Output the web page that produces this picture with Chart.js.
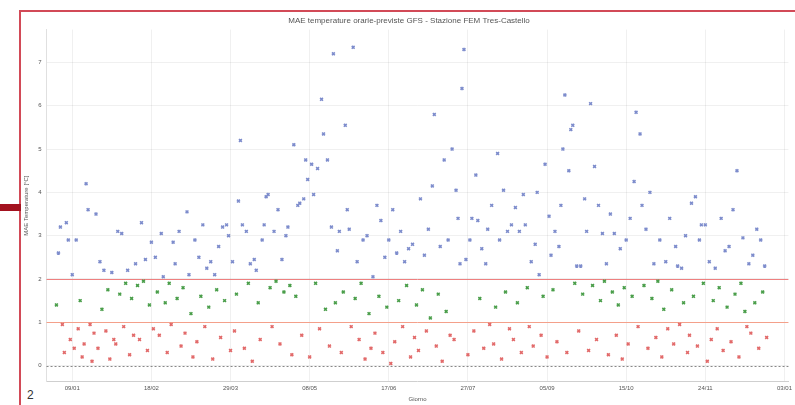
<!DOCTYPE html>
<html>
<head>
<meta charset="utf-8">
<script src="https://cdn.jsdelivr.net/npm/chart.js"></script>
<style>
  html, body { margin: 0; padding: 0; background: #fff; }
  body { width: 795px; height: 405px; position: relative; overflow: hidden; font-family: "Liberation Sans", Arial, sans-serif; }
  #frame { position: absolute; left: 19px; top: 10px; width: 800px; height: 420px; border-left: 2px solid #d24a57; border-top: 2px solid #d24a57; }
  #bar { position: absolute; left: 0; top: 204px; width: 21px; height: 7px; background: #a3121f; }
  #page { position: absolute; left: 27px; top: 388px; font-size: 12px; color: #333; }
  #box { position: absolute; left: 21px; top: 12px; width: 774px; height: 393px; }
</style>
</head>
<body>
<div id="frame"></div>
<div id="bar"></div>
<div id="page">2</div>
<div id="box"><canvas id="chart"></canvas></div>
<script>
// Chart data

const titolo = "MAE temperature orarie-previste GFS - Stazione FEM Tres-Castello";

// MAE giornaliero [°C], un valore per giorno
const mae = [
  1.4, 2.6, 3.2, 0.95, 0.3, 3.3, 2.9, 0.6, 2.1, 0.4,
  2.9, 0.85, 1.5, 0.2, 0.5, 4.2, 3.6, 0.95, 0.1, 0.75,
  3.5, 0.4, 2.4, 1.3, 2.2, 0.8, 1.75, 0.15, 2.15, 0.6,
  0.5, 3.1, 1.65, 3.05, 0.9, 1.9, 2.2, 0.25, 1.55, 0.7,
  2.35, 1.85, 0.6, 3.3, 1.95, 2.45, 0.35, 1.4, 2.85, 0.85,
  2.5, 1.7, 0.7, 3.05, 2.05, 1.45, 0.3, 1.9, 0.95, 2.85,
  2.35, 1.55, 3.1, 0.45, 1.8, 0.75, 3.55, 2.1, 1.2, 0.2,
  2.9, 0.55, 2.5, 1.6, 3.25, 0.9, 2.25, 1.35, 2.4, 0.15,
  2.1, 1.75, 2.75, 0.65, 3.2, 1.5, 3.25, 3.0, 0.35, 2.4,
  0.8, 1.65, 3.8, 5.2, 3.25, 0.4, 3.1, 1.9, 2.35, 0.1,
  2.45, 2.2, 1.45, 0.6, 2.9, 3.25, 3.9, 3.95, 1.8, 0.9,
  3.1, 1.95, 3.6, 0.5, 2.45, 1.7, 3.0, 3.2, 1.85, 0.25,
  5.1, 1.6, 3.7, 3.75, 0.7, 3.85, 4.75, 4.3, 0.2, 4.65,
  3.95, 1.9, 4.55, 0.85, 6.15, 5.35, 1.3, 4.75, 0.45, 3.2,
  7.2, 1.45, 2.65, 3.1, 0.3, 1.7, 5.55, 3.6, 3.15, 0.9,
  7.35, 1.55, 2.4, 0.6, 1.9, 2.9, 0.15, 3.0, 1.2, 0.4,
  2.05, 0.75, 3.7, 1.6, 3.35, 0.3, 2.5, 1.35, 2.9, 0.05,
  3.6, 0.55, 2.6, 1.5, 3.1, 0.9, 2.4, 1.85, 2.7, 0.2,
  2.8, 0.65, 1.4, 0.35, 3.85, 1.75, 2.55, 0.8, 3.15, 1.1,
  4.15, 5.8, 0.45, 1.65, 2.75, 0.1, 4.75, 1.25, 2.9, 0.7,
  5.0, 0.6, 4.05, 3.4, 2.35, 6.4, 7.3, 2.45, 0.25, 2.9,
  3.4, 0.8, 4.4, 3.35, 1.55, 2.7, 0.4, 2.35, 3.15, 0.95,
  3.7, 0.5, 1.35, 4.9, 2.9, 0.15, 4.05, 1.7, 3.1, 0.85,
  3.25, 0.6, 3.65, 1.45, 3.1, 0.3, 3.95, 3.25, 1.8, 0.9,
  2.4, 0.45, 2.8, 4.0, 2.1, 0.7, 1.6, 4.65, 0.2, 3.45,
  2.55, 1.75, 3.1, 0.55, 2.75, 3.7, 5.0, 6.25, 0.3, 4.5,
  5.45, 5.55, 1.9, 2.3, 0.8, 2.3, 1.65, 3.85, 3.1, 0.35,
  6.05, 1.85, 4.6, 0.6, 3.7, 1.5, 3.05, 1.95, 2.35, 0.25,
  3.5, 1.7, 3.05, 0.7, 1.4, 2.7, 0.15, 1.8, 2.9, 0.5,
  3.4, 1.6, 4.25, 5.85, 0.9, 5.35, 3.7, 1.85, 3.15, 0.4,
  4.0, 1.55, 2.35, 0.65, 1.95, 2.9, 0.2, 1.3, 2.4, 0.85,
  3.4, 1.75, 0.5, 2.75, 2.3, 0.95, 2.25, 1.45, 3.0, 0.3,
  0.7, 3.75, 1.6, 3.9, 0.45, 2.9, 3.25, 1.9, 3.25, 0.1,
  2.4, 0.6, 1.5, 2.25, 0.85, 1.8, 3.4, 0.35, 2.65, 1.35,
  2.75, 0.55, 3.6, 1.65, 4.5, 0.2, 1.9, 2.95, 1.25, 0.9,
  2.35, 0.75, 2.55, 1.45, 3.15, 0.4, 2.9, 1.7, 2.3, 0.65
];

// tick asse x (giorno) e relative etichette
const tickGiorni = [8, 48, 88, 128, 168, 208, 248, 288, 328, 368];
const tickEtichette = ["09/01", "18/02", "29/03", "08/05", "17/06", "27/07", "05/09", "15/10", "24/11", "03/01"];

// soglie colorate e colori delle classi
const soglie = [1, 2];
const coloriSoglie = ["#f4a08a", "#ee8080"];
const coloriClassi = ["#e26a6a", "#4a9e4a", "#7d8ccc"];

function classe(v) {
    if (v < soglie[0]) return 0;
    if (v < soglie[1]) return 1;
    return 2;
}

// Plugin for the threshold lines and the zero line
const lineeSoglia = {
    id: "lineeSoglia",
    beforeDatasetsDraw(chart) {
        const ctx = chart.ctx;
        const area = chart.chartArea;
        const y = chart.scales.y;
        ctx.save();
        ctx.lineWidth = 1;
        soglie.forEach((s, i) => {
            const py = Math.round(y.getPixelForValue(s)) + 0.5;
            ctx.strokeStyle = coloriSoglie[i];
            ctx.beginPath();
            ctx.moveTo(area.left, py);
            ctx.lineTo(area.right, py);
            ctx.stroke();
        });
        const p0 = Math.round(y.getPixelForValue(0)) + 0.5;
        ctx.strokeStyle = "#888";
        ctx.setLineDash([2, 2]);
        ctx.beginPath();
        ctx.moveTo(area.left, p0);
        ctx.lineTo(area.right, p0);
        ctx.stroke();
        ctx.restore();
    }
};

const punti = mae.map((v, i) => ({ x: i, y: v }));

const ctx = document.getElementById("chart");
const chart = new Chart(ctx, {
    type: "scatter",
    data: {
        datasets: [
            {
                label: "MAE",
                data: punti,
                pointStyle: "crossRot",
                pointRadius: 2,
                pointBorderWidth: 1.6,
                pointBackgroundColor: (c) => coloriClassi[classe(c.raw ? c.raw.y : 0)],
                pointBorderColor: (c) => coloriClassi[classe(c.raw ? c.raw.y : 0)],
            },
        ],
    },
    options: {
        responsive: true,
        maintainAspectRatio: false,
        animation: false,
        layout: { padding: { left: 2, right: 0, top: 0, bottom: 2 } },
        plugins: {
            legend: { display: false },
            tooltip: { enabled: false },
            title: {
                display: true,
                text: titolo,
                color: "#555",
                font: { family: "Liberation Sans", size: 8, weight: "normal" },
                padding: { top: 4, bottom: 4 },
            },
        },
        scales: {
            x: {
                type: "linear",
                min: -5,
                max: 370,
                afterBuildTicks: (axis) => {
                    axis.ticks = tickGiorni.map((d) => ({ value: d }));
                },
                ticks: {
                    autoSkip: false,
                    maxRotation: 0,
                    color: "#555",
                    font: { family: "Liberation Sans", size: 6 },
                    padding: 3,
                    callback: (v) => tickEtichette[tickGiorni.indexOf(v)],
                },
                grid: { color: "rgba(0,0,0,0.06)", drawTicks: false },
                border: { color: "#cfcfcf" },
                title: {
                    display: true,
                    text: "Giorno",
                    color: "#555",
                    font: { family: "Liberation Sans", size: 6 },
                    padding: { top: 1, bottom: 0 },
                },
            },
            y: {
                min: -0.37,
                max: 7.76,
                afterBuildTicks: (axis) => {
                    axis.ticks = [0, 1, 2, 3, 4, 5, 6, 7].map((v) => ({ value: v }));
                },
                ticks: {
                    color: "#555",
                    font: { family: "Liberation Sans", size: 6 },
                    padding: 5,
                },
                grid: { color: "rgba(0,0,0,0.06)", drawTicks: false },
                border: { color: "#e0e0e0" },
                title: {
                    display: true,
                    text: "MAE Temperature [°C]",
                    color: "#555",
                    font: { family: "Liberation Sans", size: 6 },
                    padding: { top: 0, bottom: 3 },
                },
            },
        },
    },
    plugins: [lineeSoglia],
});
</script>
</body>
</html>
